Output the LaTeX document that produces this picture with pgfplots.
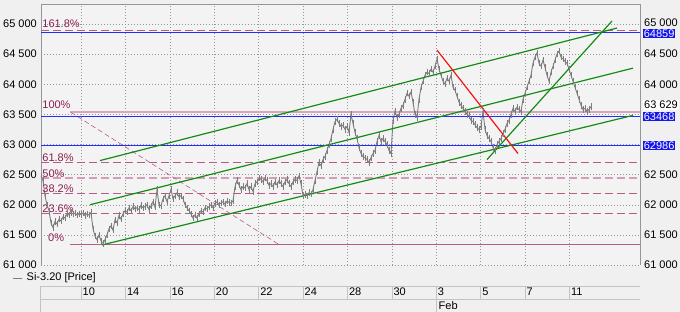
\documentclass[border=0pt]{standalone}
\usepackage{pgfplots}
\pgfplotsset{compat=1.18}
\usepackage{pgfplotstable}
\usepackage{fontspec}
\setmainfont{Liberation Sans}
\definecolor{bgc}{RGB}{240,240,240}
\definecolor{plotbg}{RGB}{243,243,243}
\definecolor{fibl}{RGB}{182,92,138}
\definecolor{fibt}{RGB}{140,30,82}
\definecolor{bluel}{RGB}{35,45,255}
\definecolor{boxb}{RGB}{20,20,235}
\definecolor{greenl}{RGB}{20,140,20}
\definecolor{redl}{RGB}{240,20,20}
\definecolor{pricec}{RGB}{125,125,125}
\definecolor{gridc}{RGB}{150,150,150}
\definecolor{bandc}{RGB}{195,195,195}
\pgfplotstableread{
p
62480
62400
62150
62000
61900
61700
61620
61720
61680
61760
61730
61800
61780
61850
61830
61870
61850
61860
61830
61850
61840
61860
61820
61850
61830
61870
61600
61480
61420
61500
61400
61360
61420
61500
61600
61650
61580
61750
61700
61820
61760
61850
61900
61880
61950
61900
61970
61930
61950
61920
61990
61950
61970
62000
61920
61980
62050
61960
62250
62000
61980
62100
62150
62050
62150
62250
62100
62150
62200
62130
62150
62100
62000
61950
61900
61850
61780
61830
61780
61850
61900
61880
61950
61930
61970
62000
61950
62020
62050
62000
62030
62050
62010
62060
62040
62030
62060
62300
62400
62330
62250
62300
62280
62350
62250
62300
62220
62350
62380
62440
62420
62380
62440
62400
62320
62350
62300
62380
62330
62400
62350
62300
62380
62420
62350
62300
62380
62420
62400
62480
62350
62150
62170
62150
62200
62180
62250
62400
62550
62700
62650
62750
62800
62900
63000
63100
63250
63380
63420
63350
63300
63320
63250
63300
63200
63500
63350
63200
63100
62950
62850
62800
62780
62750
62700
62780
62850
62900
63050
63150
63050
63100
63050
63000
62900
62850
63400
63550
63450
63500
63600
63650
63750
63850
63800
63870
63700
63500
63450
63750
63950
64050
64150
64200
64180
64250
64200
64300
64420
64250
64150
64050
64000
64100
64050
64150
63950
63900
63800
63700
63650
63600
63550
63500
63480
63400
63380
63330
63280
63250
63300
63550
63250
63150
63100
63050
62950
62900
63000
63050
63100
63180
63250
63350
63400
63500
63600
63550
63620
63580
63550
63750
63850
63950
64050
64150
64350
64450
64520
64350
64300
64400
64280
64150
64050
64200
64300
64400
64500
64550
64450
64420
64380
64350
64250
64150
64050
63950
63850
63750
63650
63580
63600
63550
63580
63629
}\pricedata
\begin{document}
\begin{tikzpicture}[x=1pt,y=1pt,font=\fontsize{11}{13}\selectfont]
\useasboundingbox (0,0) rectangle (680,312);
\fill[bgc] (0,0) rectangle (680,312);
\fill[plotbg] (41,47) rectangle (640,308);
% date band
\draw[bandc] (40,26) -- (640,26);
\draw[bandc] (40,13) -- (640,13);
\draw[bandc] (40,26) -- (40,0);
\foreach \t in {81,125.4,169.8,214.2,258.6,303,347.4,391.8,436.2,480.6,525,569.4}{
  \draw[bandc] (\t,26) -- (\t,13);
}
\draw[bandc] (436.2,13) -- (436.2,0);
\node[anchor=west, inner sep=0pt] at (438.5,6) {Feb};
% legend
\draw[pricec, line width=0.8pt] (13,34) -- (22,34);
\node[anchor=west, inner sep=0pt] at (26.5,34.5) {Si-3.20 [Price]};
\begin{axis}[
  at={(41pt,47pt)}, anchor=south west,
  width=599pt, height=261pt, scale only axis,
  xmin=0, xmax=299.5, ymin=61000, ymax=65332,
  hide axis,
  clip=false,
]
% grid
\addplot[gridc, dash pattern=on 1pt off 2pt, forget plot] coordinates {(0,61000) (299.5,61000)};
\addplot[gridc, dash pattern=on 1pt off 2pt, forget plot] coordinates {(0,61500) (299.5,61500)};
\addplot[gridc, dash pattern=on 1pt off 2pt, forget plot] coordinates {(0,62000) (299.5,62000)};
\addplot[gridc, dash pattern=on 1pt off 2pt, forget plot] coordinates {(0,62500) (299.5,62500)};
\addplot[gridc, dash pattern=on 1pt off 2pt, forget plot] coordinates {(0,63000) (299.5,63000)};
\addplot[gridc, dash pattern=on 1pt off 2pt, forget plot] coordinates {(0,63500) (299.5,63500)};
\addplot[gridc, dash pattern=on 1pt off 2pt, forget plot] coordinates {(0,64000) (299.5,64000)};
\addplot[gridc, dash pattern=on 1pt off 2pt, forget plot] coordinates {(0,64500) (299.5,64500)};
\addplot[gridc, dash pattern=on 1pt off 2pt, forget plot] coordinates {(0,65000) (299.5,65000)};
\addplot[gridc, dash pattern=on 1pt off 2pt, forget plot] coordinates {(20,61000) (20,65332)};
\addplot[gridc, dash pattern=on 1pt off 2pt, forget plot] coordinates {(42.2,61000) (42.2,65332)};
\addplot[gridc, dash pattern=on 1pt off 2pt, forget plot] coordinates {(64.4,61000) (64.4,65332)};
\addplot[gridc, dash pattern=on 1pt off 2pt, forget plot] coordinates {(86.6,61000) (86.6,65332)};
\addplot[gridc, dash pattern=on 1pt off 2pt, forget plot] coordinates {(108.8,61000) (108.8,65332)};
\addplot[gridc, dash pattern=on 1pt off 2pt, forget plot] coordinates {(131,61000) (131,65332)};
\addplot[gridc, dash pattern=on 1pt off 2pt, forget plot] coordinates {(153.2,61000) (153.2,65332)};
\addplot[gridc, dash pattern=on 1pt off 2pt, forget plot] coordinates {(175.4,61000) (175.4,65332)};
\addplot[gridc, dash pattern=on 1pt off 2pt, forget plot] coordinates {(197.6,61000) (197.6,65332)};
\addplot[gridc, dash pattern=on 1pt off 2pt, forget plot] coordinates {(219.8,61000) (219.8,65332)};
\addplot[gridc, dash pattern=on 1pt off 2pt, forget plot] coordinates {(242,61000) (242,65332)};
\addplot[gridc, dash pattern=on 1pt off 2pt, forget plot] coordinates {(264.2,61000) (264.2,65332)};
% frame
\draw[gridc] (rel axis cs:0,0) -- (rel axis cs:0,1) -- (rel axis cs:1,1) -- (rel axis cs:1,0);
% Fibonacci levels
\addplot[fibl, line width=1pt, dash pattern=on 8pt off 4pt, forget plot] coordinates {(0,64900) (299.5,64900)};
\addplot[fibl!55, line width=2pt, forget plot] coordinates {(14.5,63540) (299.5,63540)};
\addplot[fibl, line width=1pt, dash pattern=on 8pt off 4pt, forget plot] coordinates {(0,62700) (299.5,62700)};
\addplot[fibl!60, line width=2pt, dash pattern=on 8pt off 4pt, forget plot] coordinates {(0,62440) (299.5,62440)};
\addplot[fibl, line width=1pt, dash pattern=on 8pt off 4pt, forget plot] coordinates {(0,62180) (299.5,62180)};
\addplot[fibl, line width=1pt, dash pattern=on 8pt off 4pt, forget plot] coordinates {(0,61859) (299.5,61859)};
\addplot[fibl, line width=1pt, forget plot] coordinates {(14.5,61340) (299.5,61340)};
\addplot[fibl, line width=0.6pt, dash pattern=on 5pt off 3pt, forget plot] coordinates {(15,63533) (118.5,61350)};
% price bars
\addplot[color=pricec, line width=0.9pt, mark=|, mark size=3.2pt,
  mark options={line width=1pt, color=pricec}, forget plot]
  table[x expr=\coordindex, y=p] {\pricedata};
% blue levels
\addplot[color=bluel, line width=1.5pt, forget plot] coordinates {(0,64859) (299.5,64859)};
\addplot[color=bluel, line width=1.5pt, forget plot] coordinates {(0,63468) (299.5,63468)};
\addplot[color=bluel, line width=1.5pt, forget plot] coordinates {(0,62986) (299.5,62986)};
% trend lines
\addplot[color=greenl, line width=1.2pt, forget plot] coordinates {(30.5,61333) (296,63483)};
\addplot[color=greenl, line width=1.2pt, forget plot] coordinates {(24.5,62000) (296,64267)};
\addplot[color=greenl, line width=1.2pt, forget plot] coordinates {(29.5,62733) (288,64933)};
\addplot[color=greenl, line width=1.2pt, forget plot] coordinates {(223,62750) (285.5,65050)};
\addplot[color=redl, line width=1.2pt, forget plot] coordinates {(198,64567) (238.5,62850)};
% fib labels
\node[fibt, anchor=base west, inner sep=0pt, yshift=3pt] at (axis cs:0.6,64900) {161.8\%};
\node[fibt, anchor=base west, inner sep=0pt, yshift=3pt] at (axis cs:0.6,63540) {100\%};
\node[fibt, anchor=base west, inner sep=0pt, yshift=1pt] at (axis cs:0.6,62700) {61.8\%};
\node[fibt, anchor=base west, inner sep=0pt, yshift=1pt] at (axis cs:0.6,62440) {50\%};
\node[fibt, anchor=base west, inner sep=0pt, yshift=1pt] at (axis cs:0.6,62180) {38.2\%};
\node[fibt, anchor=base west, inner sep=0pt, yshift=1pt] at (axis cs:0.6,61859) {23.6\%};
\node[fibt, anchor=base west, inner sep=0pt, yshift=3pt] at (axis cs:3.5,61340) {0\%};
% left labels
\node[anchor=east, inner sep=0pt, xshift=-4pt] at (axis cs:0,61000) {61 000};
\node[anchor=east, inner sep=0pt, xshift=-4pt] at (axis cs:0,61500) {61 500};
\node[anchor=east, inner sep=0pt, xshift=-4pt] at (axis cs:0,62000) {62 000};
\node[anchor=east, inner sep=0pt, xshift=-4pt] at (axis cs:0,62500) {62 500};
\node[anchor=east, inner sep=0pt, xshift=-4pt] at (axis cs:0,63000) {63 000};
\node[anchor=east, inner sep=0pt, xshift=-4pt] at (axis cs:0,63500) {63 500};
\node[anchor=east, inner sep=0pt, xshift=-4pt] at (axis cs:0,64000) {64 000};
\node[anchor=east, inner sep=0pt, xshift=-4pt] at (axis cs:0,64500) {64 500};
\node[anchor=east, inner sep=0pt, xshift=-4pt] at (axis cs:0,65000) {65 000};
% date labels
\node[anchor=west, inner sep=0pt, xshift=1.5pt, yshift=-27pt] at (axis cs:20,61000) {10};
\node[anchor=west, inner sep=0pt, xshift=1.5pt, yshift=-27pt] at (axis cs:42.2,61000) {14};
\node[anchor=west, inner sep=0pt, xshift=1.5pt, yshift=-27pt] at (axis cs:64.4,61000) {16};
\node[anchor=west, inner sep=0pt, xshift=1.5pt, yshift=-27pt] at (axis cs:86.6,61000) {20};
\node[anchor=west, inner sep=0pt, xshift=1.5pt, yshift=-27pt] at (axis cs:108.8,61000) {22};
\node[anchor=west, inner sep=0pt, xshift=1.5pt, yshift=-27pt] at (axis cs:131,61000) {24};
\node[anchor=west, inner sep=0pt, xshift=1.5pt, yshift=-27pt] at (axis cs:153.2,61000) {28};
\node[anchor=west, inner sep=0pt, xshift=1.5pt, yshift=-27pt] at (axis cs:175.4,61000) {30};
\node[anchor=west, inner sep=0pt, xshift=1.5pt, yshift=-27pt] at (axis cs:197.6,61000) {3};
\node[anchor=west, inner sep=0pt, xshift=1.5pt, yshift=-27pt] at (axis cs:219.8,61000) {5};
\node[anchor=west, inner sep=0pt, xshift=1.5pt, yshift=-27pt] at (axis cs:242,61000) {7};
\node[anchor=west, inner sep=0pt, xshift=1.5pt, yshift=-27pt] at (axis cs:264.2,61000) {11};
% right labels
\node[anchor=west, inner sep=0pt, xshift=4pt] at (axis cs:299.5,61000) {61 000};
\node[anchor=west, inner sep=0pt, xshift=4pt] at (axis cs:299.5,61500) {61 500};
\node[anchor=west, inner sep=0pt, xshift=4pt] at (axis cs:299.5,62000) {62 000};
\node[anchor=west, inner sep=0pt, xshift=4pt] at (axis cs:299.5,62500) {62 500};
\node[anchor=west, inner sep=0pt, xshift=4pt] at (axis cs:299.5,64000) {64 000};
\node[anchor=west, inner sep=0pt, xshift=4pt] at (axis cs:299.5,64500) {64 500};
\node[anchor=west, inner sep=0pt, xshift=4pt, yshift=1pt] at (axis cs:299.5,65000) {65 000};
\node[anchor=west, fill=white, inner sep=1pt, xshift=3pt] at (axis cs:299.5,63660) {63 629};
\node[anchor=west, fill=boxb, text=white, inner sep=0.6pt, xshift=3pt] at (axis cs:299.5,64840) {64859};
\node[anchor=west, fill=boxb, text=white, inner sep=0.6pt, xshift=3pt] at (axis cs:299.5,63460) {63468};
\node[anchor=west, fill=boxb, text=white, inner sep=0.6pt, xshift=3pt] at (axis cs:299.5,62986) {62986};
\end{axis}
\end{tikzpicture}
\end{document}
